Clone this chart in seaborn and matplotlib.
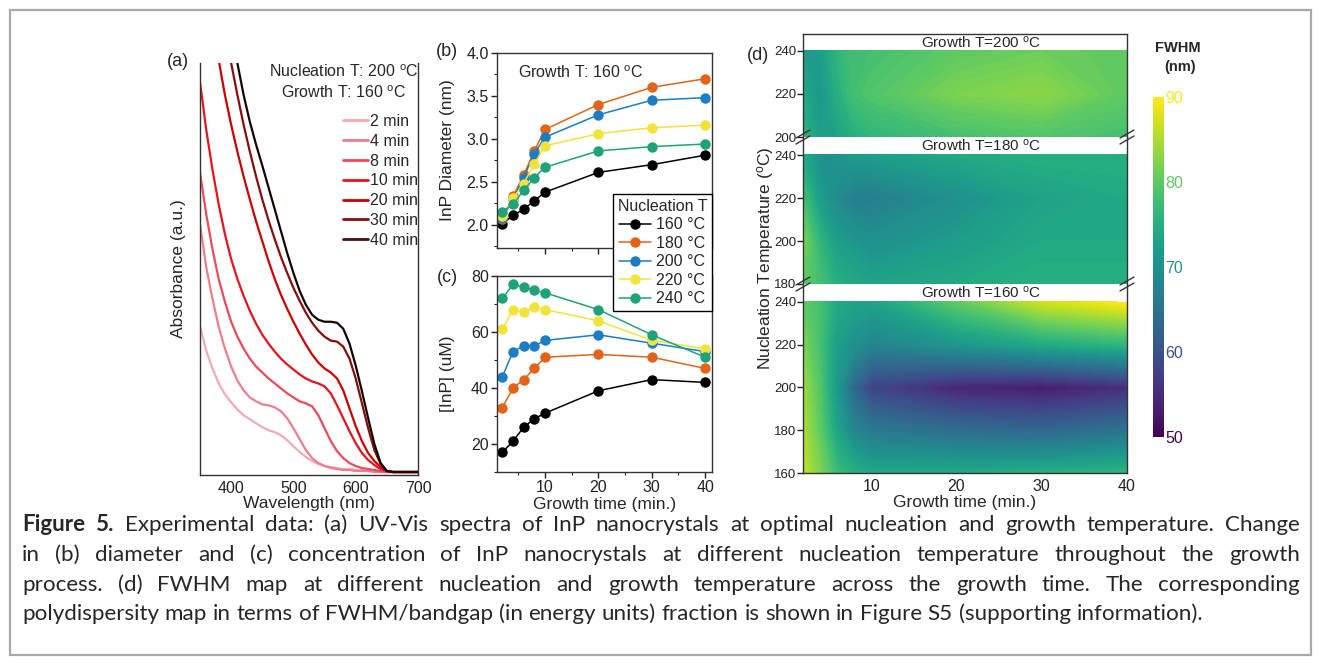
import numpy as np
import pandas as pd
import matplotlib
matplotlib.use("Agg")
import matplotlib.pyplot as plt
import seaborn as sns
from matplotlib.lines import Line2D
from matplotlib.patches import Rectangle
from matplotlib.ticker import MultipleLocator, FormatStrFormatter

# ---------------- data ----------------
wavelength = list(range(350, 701, 10))
time_labels = ["2 min", "4 min", "8 min", "10 min", "20 min", "30 min", "40 min"]
abs_2min = [1.48,1.23,1.05,0.90,0.79,0.71,0.64,0.58,0.54,0.50,0.46,0.43,0.41,0.38,0.33,0.27,0.21,0.16,0.12,0.09,0.07,0.06,0.05,0.04,0.04,0.03,0.03,0.02,0.02,0.02,0.01,0.01,0.01,0.01,0.01,0.01]
abs_4min = [2.50,2.07,1.75,1.47,1.25,1.07,0.93,0.83,0.76,0.72,0.69,0.68,0.66,0.62,0.55,0.45,0.34,0.23,0.15,0.10,0.07,0.05,0.04,0.03,0.03,0.02,0.02,0.02,0.01,0.01,0.01,0.01,0.01,0.01,0.01,0.01]
abs_8min = [3.02,2.60,2.25,1.95,1.72,1.52,1.37,1.25,1.15,1.07,1.01,0.95,0.90,0.85,0.80,0.76,0.72,0.70,0.67,0.58,0.45,0.32,0.22,0.15,0.10,0.07,0.05,0.04,0.03,0.02,0.01,0.01,0.01,0.01,0.01,0.01]
abs_10min = [3.93,3.45,3.05,2.70,2.40,2.15,1.95,1.78,1.63,1.50,1.39,1.30,1.22,1.15,1.09,1.04,0.99,0.95,0.92,0.90,0.87,0.80,0.68,0.55,0.42,0.30,0.20,0.13,0.08,0.04,0.02,0.01,0.01,0.01,0.01,0.01]
abs_20min = [5.15,4.75,4.40,4.15,3.80,3.50,3.23,2.98,2.75,2.53,2.33,2.13,1.95,1.79,1.65,1.52,1.40,1.29,1.19,1.11,1.05,1.01,0.95,0.83,0.65,0.47,0.32,0.20,0.12,0.06,0.02,0.01,0.01,0.01,0.01,0.01]
abs_30min = [6.25,5.75,5.30,4.90,4.50,4.12,3.80,3.50,3.23,2.98,2.75,2.54,2.35,2.17,2.01,1.86,1.73,1.61,1.51,1.43,1.37,1.33,1.32,1.27,1.15,0.95,0.70,0.45,0.23,0.09,0.02,0.01,0.01,0.01,0.01,0.01]
abs_40min = [6.75,6.25,5.75,5.30,4.90,4.50,4.12,3.80,3.53,3.30,3.09,2.87,2.65,2.43,2.21,2.01,1.83,1.69,1.59,1.54,1.52,1.52,1.51,1.45,1.30,1.08,0.82,0.55,0.29,0.10,0.02,0.01,0.01,0.01,0.01,0.01]
spectra = [abs_2min, abs_4min, abs_8min, abs_10min, abs_20min, abs_30min, abs_40min]
spec_colors = ["#f4aab4", "#ee7d8d", "#ec4a5a", "#e8121c", "#cc0000", "#8a0c0c", "#140404"]
legend_colors_a = ["#f4aab4", "#ee7d8d", "#ec4a5a", "#e8121c", "#cc0000", "#8a0c0c", "#4a0e0e"]

growth_time = [2, 4, 6, 8, 10, 20, 30, 40]
nuc_labels = ["160 °C", "180 °C", "200 °C", "220 °C", "240 °C"]
nuc_colors = ["#000000", "#e0651a", "#1c7cc4", "#f2e33a", "#1ea27a"]
diam_160 = [2.01, 2.11, 2.18, 2.28, 2.38, 2.61, 2.70, 2.81]
diam_180 = [2.07, 2.33, 2.58, 2.86, 3.11, 3.40, 3.60, 3.70]
diam_200 = [2.08, 2.30, 2.55, 2.83, 3.02, 3.28, 3.45, 3.48]
diam_220 = [2.10, 2.31, 2.48, 2.71, 2.92, 3.06, 3.13, 3.16]
diam_240 = [2.15, 2.24, 2.40, 2.55, 2.67, 2.86, 2.91, 2.94]
conc_160 = [17, 21, 26, 29, 31, 39, 43, 42]
conc_180 = [33, 40, 43, 47, 51, 52, 51, 47]
conc_200 = [44, 53, 55, 55, 57, 59, 56, 53]
conc_220 = [61, 68, 67, 69, 68, 64, 57, 54]
conc_240 = [72, 77, 76, 75, 74, 68, 59, 51]
diameters = [diam_160, diam_180, diam_200, diam_220, diam_240]
concs = [conc_160, conc_180, conc_200, conc_220, conc_240]

# FWHM maps (rows = nucleation T, cols = growth time)
nuc_g200 = [200, 220, 240]
fwhm_g200 = [[76, 72, 73, 75, 76, 78, 79, 78],
             [74, 71, 75, 78, 79, 82, 83, 80],
             [72, 72, 76, 78, 78, 80, 81, 80]]
nuc_g180 = [180, 200, 220, 240]
fwhm_g180 = [[80, 78, 75, 74, 73, 74, 75, 75],
             [82, 76, 72, 71, 70, 72, 74, 74],
             [78, 72, 69, 67, 67, 70, 73, 74],
             [74, 70, 71, 72, 72, 74, 75, 75]]
nuc_g160 = [160, 180, 200, 220, 240]
fwhm_g160 = [[86, 82, 77, 75, 74, 74, 75, 76],
             [85, 80, 73, 68, 66, 64, 63, 65],
             [84, 79, 71, 63, 58, 54, 53, 55],
             [82, 78, 72, 70, 68, 71, 74, 76],
             [80, 78, 74, 73, 73, 80, 87, 90]]
cbar_ticks = [50, 60, 70, 80, 90]

caption_lines = [
    "Figure 5. Experimental data: (a) UV-Vis spectra of InP nanocrystals at optimal nucleation and growth temperature. Change",
    "in (b) diameter and (c) concentration of InP nanocrystals at different nucleation temperature throughout the growth",
    "process. (d) FWHM map at different nucleation and growth temperature across the growth time. The corresponding",
    "polydispersity map in terms of FWHM/bandgap (in energy units) fraction is shown in Figure S5 (supporting information).",
]

# ---------------- style ----------------
sns.set_style("ticks")
plt.rcParams["font.family"] = ["Liberation Sans", "DejaVu Sans"]
plt.rcParams["mathtext.fontset"] = "custom"
plt.rcParams["mathtext.rm"] = "Liberation Sans"
plt.rcParams["mathtext.it"] = "Liberation Sans"
plt.rcParams["axes.edgecolor"] = "#333333"
plt.rcParams["axes.linewidth"] = 1.0
plt.rcParams["xtick.color"] = "#222222"
plt.rcParams["ytick.color"] = "#222222"
DEG = r"$^\mathrm{o}$C"

W, H = 1320, 664
fig = plt.figure(figsize=(W / 100, H / 100), dpi=100)
fig.patch.set_facecolor("white")


def rect(x0, y0, x1, y1):
    return [x0 / W, 1 - y1 / H, (x1 - x0) / W, (y1 - y0) / H]


def fx(x):
    return x / W


def fy(y):
    return 1 - y / H


TICK = 11.5
LAB = 12.5

# outer border
fig.add_artist(Rectangle((fx(10), fy(655)), (1311 - 10) / W, (655 - 10) / H,
                         transform=fig.transFigure, fill=False, edgecolor="#a8a8a8", lw=1.6))

# ---------------- panel (a) ----------------
spec_df = pd.DataFrame({
    "Wavelength": np.tile(wavelength, len(time_labels)),
    "Absorbance": np.concatenate(spectra),
    "Time": np.repeat(time_labels, len(wavelength)),
})
axA = fig.add_axes(rect(200, 63, 418, 475))
sns.lineplot(data=spec_df, x="Wavelength", y="Absorbance", hue="Time", hue_order=time_labels,
             palette=dict(zip(time_labels, spec_colors)), estimator=None, sort=False,
             legend=False, linewidth=1.6, ax=axA)
axA.set_xlim(350, 700)
axA.set_ylim(-0.02, 4.12)
axA.set_xticks([400, 500, 600, 700])
axA.set_yticks([])
axA.spines["top"].set_visible(False)
axA.tick_params(axis="x", labelsize=TICK, direction="in", length=0, pad=4)
axA.set_xlabel("Wavelength (nm)", fontsize=LAB, labelpad=0)
axA.set_ylabel("Absorbance (a.u.)", fontsize=LAB)
axA.yaxis.set_label_coords(-0.065, 0.5)
handlesA = [Line2D([], [], color=c, lw=2.0) for c in legend_colors_a]
axA.legend(handlesA, time_labels, loc="upper left", bbox_to_anchor=((343 - 200) / 218, (475 - 114) / 412),
           frameon=False, fontsize=TICK, handlelength=1.55, handletextpad=0.15, labelspacing=0.3,
           borderpad=0, borderaxespad=0)
fig.text(fx(344), fy(72), "Nucleation T: 200 " + DEG, ha="center", va="center", fontsize=TICK)
fig.text(fx(344), fy(93), "Growth T: 160 " + DEG, ha="center", va="center", fontsize=TICK)
fig.text(fx(178), fy(62), "(a)", ha="center", va="center", fontsize=13)

# ---------------- panels (b) and (c) ----------------
rows = []
for lab, d, c in zip(nuc_labels, diameters, concs):
    for t, dv, cv in zip(growth_time, d, c):
        rows.append((lab, t, dv, cv))
bc_df = pd.DataFrame(rows, columns=["Nucleation", "Time", "Diameter", "Conc"])
pal = dict(zip(nuc_labels, nuc_colors))

axB = fig.add_axes(rect(497, 53, 712, 248))
sns.lineplot(data=bc_df, x="Time", y="Diameter", hue="Nucleation", hue_order=nuc_labels, palette=pal,
             estimator=None, sort=False, legend=False, linewidth=1.1, marker="o", markersize=7.5,
             markeredgewidth=0, ax=axB)
axB.set_xlim(1, 41.3)
axB.set_ylim(1.73, 4.0)
axB.yaxis.set_major_locator(MultipleLocator(0.5))
axB.yaxis.set_minor_locator(MultipleLocator(0.25))
axB.yaxis.set_major_formatter(FormatStrFormatter("%.1f"))
axB.xaxis.set_major_locator(MultipleLocator(10))
axB.xaxis.set_minor_locator(MultipleLocator(5))
axB.tick_params(axis="x", labelbottom=False)
axB.set_xlabel("")
axB.set_ylabel("InP Diameter (nm)", fontsize=LAB)
axB.yaxis.set_label_coords(-0.195, 0.5)
axB.text(0.1, 0.9, "Growth T: 160 " + DEG, transform=axB.transAxes, fontsize=TICK, va="center")
fig.text(fx(447), fy(52), "(b)", ha="center", va="center", fontsize=13)

axC = fig.add_axes(rect(497, 276, 712, 472))
sns.lineplot(data=bc_df, x="Time", y="Conc", hue="Nucleation", hue_order=nuc_labels, palette=pal,
             estimator=None, sort=False, legend=False, linewidth=1.1, marker="o", markersize=7.5,
             markeredgewidth=0, ax=axC)
axC.set_xlim(1, 41.3)
axC.set_ylim(10, 80)
axC.yaxis.set_major_locator(MultipleLocator(20))
axC.yaxis.set_minor_locator(MultipleLocator(10))
axC.xaxis.set_major_locator(MultipleLocator(10))
axC.xaxis.set_minor_locator(MultipleLocator(5))
axC.set_xlabel("Growth time (min.)", fontsize=LAB, labelpad=1)
axC.set_ylabel("[InP] (uM)", fontsize=LAB)
axC.yaxis.set_label_coords(-0.195, 0.5)
fig.text(fx(447), fy(278), "(c)", ha="center", va="center", fontsize=13)

for ax in (axB, axC):
    ax.tick_params(which="major", direction="out", length=4, width=1, labelsize=TICK, pad=2)
    ax.tick_params(which="minor", direction="out", length=2.5, width=0.8)

handlesBC = [Line2D([], [], color=c, lw=1.1, marker="o", markersize=7.5, markeredgewidth=0) for c in nuc_colors]
leg = fig.legend(handlesBC, nuc_labels, title="Nucleation T", loc="upper right",
                 bbox_to_anchor=(fx(712), fy(194)), frameon=True, fancybox=False, framealpha=1,
                 edgecolor="black", fontsize=TICK, title_fontsize=TICK, handlelength=2.0,
                 handletextpad=0.3, labelspacing=0.22, borderpad=0.3, borderaxespad=0)
leg.get_frame().set_linewidth(1.0)
leg.set_zorder(10)

# ---------------- panel (d) ----------------
cmap = plt.get_cmap("viridis")
levels = np.linspace(50, 90, 81)
d_specs = [
    (fwhm_g200, nuc_g200, (34, 137), (200, 247.9), "Growth T=200 " + DEG, 42.5),
    (fwhm_g180, nuc_g180, (137, 284), (180, 248.4), "Growth T=180 " + DEG, 146),
    (fwhm_g160, nuc_g160, (284, 473), (160, 248.4), "Growth T=160 " + DEG, 293),
]
d_axes = []
for i, (Z, nuc, (ytop, ybot), ylim, title, ty) in enumerate(d_specs):
    ax = fig.add_axes(rect(803, ytop, 1127, ybot))
    X, Y = np.meshgrid(growth_time, nuc)
    cs = ax.contourf(X, Y, np.array(Z, dtype=float), levels=levels, cmap=cmap, vmin=50, vmax=90)
    cs.set_edgecolor("face")
    cs.set_linewidth(0.6)
    ax.set_xlim(2, 40)
    ax.set_ylim(*ylim)
    ax.set_yticks(list(range(nuc[0], 241, 20)))
    ax.tick_params(axis="y", direction="out", length=4, width=1, labelsize=9.5, pad=1, color="#222222")
    ax.set_xticks([10, 20, 30, 40])
    if i < 2:
        ax.spines["bottom"].set_visible(False)
        ax.tick_params(axis="x", bottom=False, labelbottom=False)
    else:
        ax.tick_params(axis="x", direction="out", length=0, labelsize=TICK, pad=4)
        ax.set_xlabel("Growth time (min.)", fontsize=LAB, labelpad=1)
    if i > 0:
        ax.spines["top"].set_visible(False)
    ax.set_ylabel("")
    fig.text(fx(981), fy(ty), title, ha="center", va="center", fontsize=11)
    d_axes.append(ax)

fig.text(fx(765), fy(258), "Nucleation Temperature (" + DEG + ")", rotation=90,
         ha="center", va="center", fontsize=LAB)
fig.text(fx(758), fy(55), "(d)", ha="center", va="center", fontsize=13)

for yb in (137, 284):
    for xb in (803, 1127):
        for dy in (-3, 3):
            fig.add_artist(Line2D([fx(xb - 7), fx(xb + 7)], [fy(yb + dy + 4), fy(yb + dy - 4)],
                                  transform=fig.transFigure, color="#333333", lw=1.0))

cax = fig.add_axes(rect(1153, 97, 1164, 437))
norm = matplotlib.colors.Normalize(50, 90)
cb = fig.colorbar(matplotlib.cm.ScalarMappable(norm=norm, cmap=cmap), cax=cax, ticks=cbar_ticks)
cb.outline.set_visible(False)
cax.tick_params(length=0, labelsize=TICK, pad=1)
for lbl, v in zip(cax.get_yticklabels(), cbar_ticks):
    lbl.set_color(cmap(norm(v)))
fig.text(fx(1178), fy(48), "FWHM", ha="center", va="center", fontsize=10.5, fontweight="bold")
fig.text(fx(1180), fy(67), "(nm)", ha="center", va="center", fontsize=10.5, fontweight="bold")

# ---------------- caption (justified) ----------------
CAP_FONT = ["Lato", "DejaVu Sans"]
fig.canvas.draw()
renderer = fig.canvas.get_renderer()
probe = fig.text(0, 0, caption_lines[-1], fontsize=13, family=CAP_FONT)
w_last = probe.get_window_extent(renderer).width
probe.remove()
cap_fs = 13 * (1195 - 22) / w_last

left, right = 22, 1300
baselines = [531, 561, 591, 620]
sp = fig.text(0, 0, "a a", fontsize=cap_fs, family=CAP_FONT)
sp2 = fig.text(0, 0, "aa", fontsize=cap_fs, family=CAP_FONT)
space_w = sp.get_window_extent(renderer).width - sp2.get_window_extent(renderer).width
sp.remove()
sp2.remove()
for li, (line, yb) in enumerate(zip(caption_lines, baselines)):
    words = line.split(" ")
    texts = []
    for wi, wd in enumerate(words):
        bold = (li == 0 and wi < 2)
        t = fig.text(0, fy(yb), wd, fontsize=cap_fs, family=CAP_FONT, va="baseline",
                     fontweight="bold" if bold else "normal")
        texts.append(t)
    widths = [t.get_window_extent(renderer).width for t in texts]
    if li < len(caption_lines) - 1:
        gap = (right - left - sum(widths)) / (len(words) - 1)
    else:
        gap = space_w
    x = left
    for t, w in zip(texts, widths):
        t.set_x(fx(x))
        x += w + gap

fig.savefig("out.png", dpi=100, facecolor="white")
